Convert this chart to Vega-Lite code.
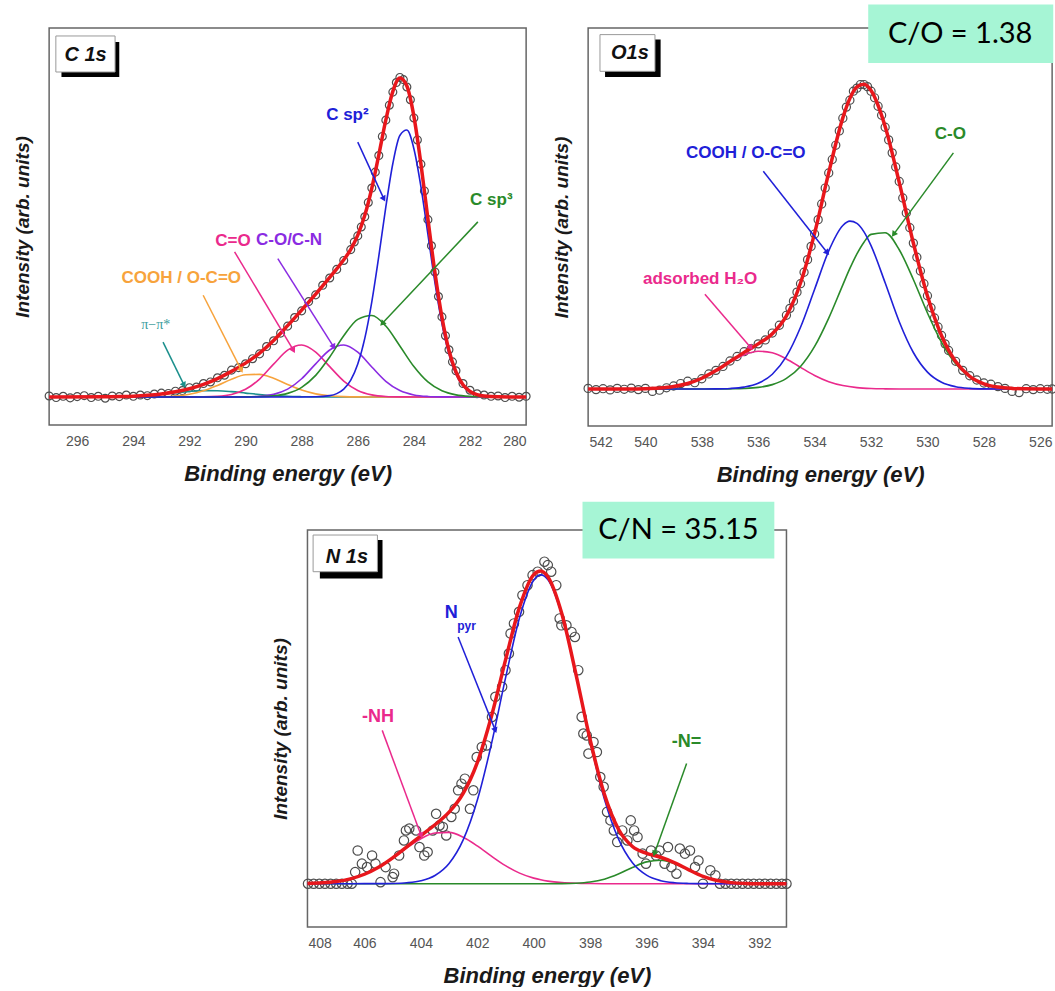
{
"$schema": "https://vega.github.io/schema/vega-lite/v6.json",
"padding": {"left": 12, "top": 3, "right": 0, "bottom": 0},
"background": "white",
"config": {
 "view": {"stroke": "#666", "strokeWidth": 1.5},
 "font": "Liberation Sans",
 "axis": {"grid": false, "domain": false, "ticks": false, "labelFont": "Liberation Sans", "labelFontSize": 14, "labelColor": "#555", "labelOverlap": false, "titleFont": "Liberation Sans", "titleFontWeight": "bold", "titleFontStyle": "italic", "titleColor": "#1a1a1a"},
 "axisX": {"labelPadding": 9, "titlePadding": 15, "titleFontSize": 22},
 "axisY": {"labels": false, "titlePadding": 17, "titleFontSize": 19}
},
"datasets": {
 "c1s": [
  {"e":297,"obs":0.003,"fit":0,"sp2":0,"sp3":0,"co":0,"c_o":0,"cooh":0,"pi":0},
  {"e":296.75,"obs":-0.002},
  {"e":296.5,"obs":0.002},
  {"e":296.25,"obs":-0.003},
  {"e":296,"obs":0.001},
  {"e":295.75,"obs":0.004},
  {"e":295.5,"obs":-0.002},
  {"e":295.25,"obs":0.002},
  {"e":295,"obs":-0.004,"fit":0.0003,"pi":0.0003},
  {"e":294.75,"obs":0.003},
  {"e":294.5,"obs":0.001,"fit":0.001,"pi":0.001},
  {"e":294.25,"obs":0.006},
  {"e":294,"obs":0.002,"fit":0.0023,"pi":0.0023,"cooh":0},
  {"e":293.75,"obs":0.006},
  {"e":293.5,"obs":0.004,"fit":0.005,"pi":0.0048,"cooh":0.0002},
  {"e":293.25,"obs":0.009},
  {"e":293,"obs":0.012,"fit":0.0093,"pi":0.0085,"cooh":0.0008,"c_o":0},
  {"e":292.75,"obs":0.011},
  {"e":292.5,"obs":0.018,"fit":0.016,"pi":0.0131,"cooh":0.0029,"c_o":0},
  {"e":292.25,"obs":0.02},
  {"e":292,"obs":0.029,"fit":0.0256,"pi":0.0173,"cooh":0.0082,"c_o":0.0001},
  {"e":291.75,"obs":0.031},
  {"e":291.5,"obs":0.042,"fit":0.0394,"pi":0.0198,"cooh":0.0192,"c_o":0.0004,"co":0},
  {"e":291.25,"obs":0.047},
  {"e":291,"obs":0.06,"fit":0.0577,"pi":0.0195,"cooh":0.0362,"c_o":0.002,"co":0},
  {"e":290.75,"obs":0.068},
  {"e":290.5,"obs":0.084,"fit":0.0802,"pi":0.0166,"cooh":0.0556,"c_o":0.0079,"co":0.0001,"sp3":0},
  {"e":290.25,"obs":0.092},
  {"e":290,"obs":0.104,"fit":0.1061,"pi":0.0121,"cooh":0.0695,"c_o":0.0239,"co":0.0004,"sp3":0.0002},
  {"e":289.75,"obs":0.12},
  {"e":289.5,"obs":0.135,"fit":0.1375,"pi":0.0077,"cooh":0.0707,"c_o":0.0561,"co":0.0021,"sp3":0.0009},
  {"e":289.25,"obs":0.158},
  {"e":289,"obs":0.176,"fit":0.177,"pi":0.0042,"cooh":0.0585,"c_o":0.1028,"co":0.0081,"sp3":0.0034,"sp2":0},
  {"e":288.75,"obs":0.2},
  {"e":288.5,"obs":0.222,"fit":0.2236,"pi":0.002,"cooh":0.0393,"c_o":0.1467,"co":0.0244,"sp3":0.0112},
  {"e":288.25,"obs":0.249},
  {"e":288,"obs":0.27,"fit":0.2725,"pi":0.0008,"cooh":0.0215,"c_o":0.163,"co":0.057,"sp3":0.0302,"sp2":0},
  {"e":287.75,"obs":0.299},
  {"e":287.5,"obs":0.32,"fit":0.3223,"pi":0,"cooh":0.0096,"c_o":0.1408,"co":0.1038,"sp3":0.0676,"sp2":0.0005},
  {"e":287.25,"obs":0.35},
  {"e":287,"obs":0.373,"fit":0.3748,"cooh":0.0035,"c_o":0.0949,"co":0.1473,"sp3":0.1251,"sp2":0.004},
  {"e":286.75,"obs":0.4,"fit":0.4016,"sp2":0.0104},
  {"e":286.5,"obs":0.428,"fit":0.4299,"cooh":0.001,"c_o":0.0498,"co":0.1628,"sp3":0.1918,"sp2":0.0245},
  {"e":286.25,"obs":0.462,"fit":0.463,"sp2":0.0527},
  {"e":286.125,"obs":0.486},
  {"e":286,"obs":0.505,"fit":0.5073,"cooh":0.0002,"c_o":0.0204,"co":0.1402,"sp3":0.2434,"sp2":0.1031},
  {"e":285.875,"obs":0.533},
  {"e":285.75,"obs":0.565,"fit":0.5694,"sp2":0.1837},
  {"e":285.625,"obs":0.61},
  {"e":285.5,"obs":0.655,"fit":0.6544,"cooh":0,"c_o":0.0065,"co":0.0939,"sp3":0.2556,"sp2":0.2984},
  {"e":285.375,"obs":0.705},
  {"e":285.25,"obs":0.757,"fit":0.7589,"sp2":0.4416},
  {"e":285.125,"obs":0.817},
  {"e":285,"obs":0.868,"fit":0.8686,"c_o":0.0016,"co":0.049,"sp3":0.2223,"sp2":0.5957},
  {"e":284.875,"obs":0.915},
  {"e":284.75,"obs":0.956,"fit":0.9582,"sp2":0.7321},
  {"e":284.625,"obs":0.986},
  {"e":284.5,"obs":1.002,"fit":1.0001,"c_o":0.0003,"co":0.0199,"sp3":0.1599,"sp2":0.82},
  {"e":284.375,"obs":0.995},
  {"e":284.25,"obs":0.972,"fit":0.975,"sp2":0.837},
  {"e":284.125,"obs":0.932},
  {"e":284,"obs":0.875,"fit":0.88,"c_o":0,"co":0.0063,"sp3":0.0953,"sp2":0.7784},
  {"e":283.875,"obs":0.806},
  {"e":283.75,"obs":0.73,"fit":0.7314,"sp2":0.6597},
  {"e":283.625,"obs":0.646},
  {"e":283.5,"obs":0.556,"fit":0.5581,"co":0.0016,"sp3":0.047,"sp2":0.5095},
  {"e":283.375,"obs":0.474},
  {"e":283.25,"obs":0.392,"fit":0.39,"sp2":0.3587},
  {"e":283.125,"obs":0.315},
  {"e":283,"obs":0.251,"fit":0.2496,"co":0.0003,"sp3":0.0192,"sp2":0.2301},
  {"e":282.875,"obs":0.192},
  {"e":282.75,"obs":0.148,"fit":0.1458,"sp2":0.1344},
  {"e":282.625,"obs":0.11},
  {"e":282.5,"obs":0.082,"fit":0.0781,"co":0,"sp3":0.0065,"sp2":0.0716},
  {"e":282.25,"obs":0.042,"fit":0.0382,"sp2":0.0347},
  {"e":282,"obs":0.021,"fit":0.0172,"sp3":0.0018,"sp2":0.0154},
  {"e":281.75,"obs":0.01,"fit":0.0072,"sp2":0.0062},
  {"e":281.5,"obs":0.006,"fit":0.0027,"sp3":0.0004,"sp2":0.0023},
  {"e":281.25,"obs":0.002},
  {"e":281,"obs":0.003,"fit":0.0003,"sp3":0.0001,"sp2":0.0002},
  {"e":280.75,"obs":-0.002},
  {"e":280.5,"obs":0.002},
  {"e":280.25,"obs":-0.001},
  {"e":280,"obs":0.002,"fit":0,"sp2":0,"sp3":0,"co":0,"c_o":0,"cooh":0,"pi":0}
 ],
 "c1s_arr": [
  {"k":"sp2","e":285.07,"v":0.621,"e2":286.0,"v2":0.799},
  {"k":"sp3","e":285.13,"v":0.23,"e2":281.72,"v2":0.549},
  {"k":"co","e":286.86,"v":0.157,"e2":288.85,"v2":0.434},
  {"k":"c_o","e":288.29,"v":0.146,"e2":290.39,"v2":0.455},
  {"k":"cooh","e":290.15,"v":0.084,"e2":291.51,"v2":0.319},
  {"k":"pi","e":292.19,"v":0.037,"e2":292.94,"v2":0.172}
 ],
 "c1s_lab": [
  {"k":"sp2","e":286.37,"v":0.884,"t":"C sp²"},
  {"k":"sp3","e":281.24,"v":0.618,"t":"C sp³"},
  {"k":"co","e":288.45,"v":0.492,"t":"C-O/C-N"},
  {"k":"c_o","e":290.45,"v":0.489,"t":"C=O"},
  {"k":"cooh","e":292.29,"v":0.373,"t":"COOH / O-C=O"}
 ],
 "o1s": [
  {"e":542.03,"obs":0.002,"fit":0,"b":0,"g":0,"m":0},
  {"e":541.75,"obs":-0.002},
  {"e":541.5,"obs":0.001},
  {"e":541.25,"obs":-0.003},
  {"e":541,"obs":0.002,"fit":0.0001,"m":0.0001},
  {"e":540.75,"obs":-0.001},
  {"e":540.5,"obs":0.003,"fit":0.0003,"m":0.0003},
  {"e":540.25,"obs":-0.002},
  {"e":540,"obs":0.002,"fit":0.001,"m":0.001},
  {"e":539.75,"obs":-0.008},
  {"e":539.5,"obs":-0.004,"fit":0.0031,"m":0.0031},
  {"e":539.25,"obs":0.004},
  {"e":539,"obs":0.01,"fit":0.0081,"m":0.0081},
  {"e":538.75,"obs":0.018},
  {"e":538.5,"obs":0.026,"fit":0.0183,"m":0.0183,"b":0,"g":0},
  {"e":538.25,"obs":0.021},
  {"e":538,"obs":0.034,"fit":0.0358,"m":0.0357,"b":0.0001,"g":0},
  {"e":537.75,"obs":0.05},
  {"e":537.5,"obs":0.062,"fit":0.0611,"m":0.0606,"b":0.0004,"g":0.0001},
  {"e":537.25,"obs":0.075},
  {"e":537,"obs":0.093,"fit":0.0915,"m":0.0892,"b":0.0018,"g":0.0005},
  {"e":536.75,"obs":0.108},
  {"e":536.5,"obs":0.124,"fit":0.1217,"m":0.1137,"b":0.0063,"g":0.0017},
  {"e":536.25,"obs":0.134},
  {"e":536,"obs":0.15,"fit":0.1499,"m":0.1256,"b":0.019,"g":0.0053},
  {"e":535.75,"obs":0.163},
  {"e":535.5,"obs":0.186,"fit":0.184,"m":0.1204,"b":0.0491,"g":0.0145},
  {"e":535.25,"obs":0.212},
  {"e":535,"obs":0.245,"fit":0.2434,"m":0.1,"b":0.1083,"g":0.0351},
  {"e":534.875,"obs":0.268},
  {"e":534.75,"obs":0.292},
  {"e":534.625,"obs":0.322},
  {"e":534.5,"obs":0.35,"fit":0.3523,"m":0.072,"b":0.2053,"g":0.075},
  {"e":534.375,"obs":0.388},
  {"e":534.25,"obs":0.43},
  {"e":534.125,"obs":0.474},
  {"e":534,"obs":0.515,"fit":0.518,"m":0.0449,"b":0.3316,"g":0.1415},
  {"e":533.875,"obs":0.563},
  {"e":533.75,"obs":0.615},
  {"e":533.625,"obs":0.668},
  {"e":533.5,"obs":0.718,"fit":0.7191,"m":0.0243,"b":0.4591,"g":0.2357},
  {"e":533.375,"obs":0.763},
  {"e":533.25,"obs":0.81},
  {"e":533.125,"obs":0.858},
  {"e":533,"obs":0.9,"fit":0.9013,"m":0.0114,"b":0.5436,"g":0.3463},
  {"e":532.875,"obs":0.937},
  {"e":532.75,"obs":0.96,"fit":0.966,"b":0.558,"g":0.4007},
  {"e":532.625,"obs":0.99},
  {"e":532.5,"obs":1.0,"fit":1.004,"m":0.0046,"b":0.5503,"g":0.4491},
  {"e":532.375,"obs":1.012},
  {"e":532.25,"obs":1.012,"fit":1.013,"b":0.5223,"g":0.4881},
  {"e":532.125,"obs":1.005},
  {"e":532,"obs":0.99,"fit":0.9922,"m":0.0016,"b":0.4766,"g":0.514},
  {"e":531.875,"obs":0.968},
  {"e":531.75,"obs":0.94},
  {"e":531.625,"obs":0.91},
  {"e":531.5,"obs":0.87,"fit":0.8729,"m":0.0005,"b":0.3531,"g":0.5193},
  {"e":531.375,"obs":0.828},
  {"e":531.25,"obs":0.785},
  {"e":531.125,"obs":0.738},
  {"e":531,"obs":0.69,"fit":0.6866,"m":0.0001,"b":0.2237,"g":0.4628},
  {"e":530.875,"obs":0.635},
  {"e":530.75,"obs":0.585},
  {"e":530.625,"obs":0.536},
  {"e":530.5,"obs":0.485,"fit":0.4854,"m":0,"b":0.1213,"g":0.3641},
  {"e":530.375,"obs":0.438},
  {"e":530.25,"obs":0.392},
  {"e":530.125,"obs":0.35},
  {"e":530,"obs":0.31,"fit":0.3089,"b":0.0562,"g":0.2527},
  {"e":529.875,"obs":0.27},
  {"e":529.75,"obs":0.236},
  {"e":529.625,"obs":0.206},
  {"e":529.5,"obs":0.178,"fit":0.1772,"b":0.0223,"g":0.1549},
  {"e":529.375,"obs":0.15},
  {"e":529.25,"obs":0.128},
  {"e":529,"obs":0.092,"fit":0.0913,"b":0.0076,"g":0.0837},
  {"e":528.75,"obs":0.062},
  {"e":528.5,"obs":0.044,"fit":0.0422,"b":0.0022,"g":0.04},
  {"e":528.25,"obs":0.03},
  {"e":528,"obs":0.02,"fit":0.0173,"b":0.0005,"g":0.0168},
  {"e":527.75,"obs":0.016},
  {"e":527.5,"obs":0.008,"fit":0.0063,"b":0.0001,"g":0.0062},
  {"e":527.25,"obs":0.002},
  {"e":527,"obs":-0.008,"fit":0.002,"b":0,"g":0.002},
  {"e":526.75,"obs":-0.012},
  {"e":526.5,"obs":0.001,"fit":0.0006,"g":0.0006},
  {"e":526.25,"obs":-0.002},
  {"e":526,"obs":0.001,"fit":0.0001,"g":0.0001},
  {"e":525.75,"obs":-0.001},
  {"e":525.58,"obs":0,"fit":0,"b":0,"g":0,"m":0}
 ],
 "o1s_arr": [
  {"k":"b","e":533.55,"v":0.453,"e2":535.82,"v2":0.724},
  {"k":"g","e":531.2,"v":0.514,"e2":529.08,"v2":0.785},
  {"k":"m","e":536.26,"v":0.137,"e2":537.89,"v2":0.315}
 ],
 "o1s_lab": [
  {"k":"b","e":536.44,"v":0.785,"t":"COOH / O-C=O"},
  {"k":"g","e":529.19,"v":0.846,"t":"C-O"},
  {"k":"m","e":538.06,"v":0.364,"t":"adsorbed H₂O"}
 ],
 "n1s": [
  {"e":408.02,"fit":0.0011,"b":0,"m":0.0011,"g":0},
  {"e":407.5,"fit":0.003,"b":0,"m":0.003,"g":0},
  {"e":407,"fit":0.0071,"b":0,"m":0.0071,"g":0},
  {"e":406.5,"fit":0.0156,"b":0.0001,"m":0.0155,"g":0},
  {"e":406,"fit":0.0302,"b":0.0002,"m":0.03,"g":0},
  {"e":405.5,"fit":0.0524,"b":0.0002,"m":0.0522,"g":0},
  {"e":405,"fit":0.0824,"b":0.0008,"m":0.0816,"g":0},
  {"e":404.5,"fit":0.1173,"b":0.003,"m":0.1143,"g":0},
  {"e":404,"fit":0.153,"b":0.0094,"m":0.1436,"g":0},
  {"e":403.5,"fit":0.188,"b":0.0262,"m":0.1618,"g":0},
  {"e":403,"fit":0.2281,"b":0.0645,"m":0.1636,"g":0},
  {"e":402.5,"fit":0.288,"b":0.1397,"m":0.1483,"g":0},
  {"e":402,"fit":0.3865,"b":0.2659,"m":0.1206,"g":0},
  {"e":401.5,"fit":0.5332,"b":0.4452,"m":0.088,"g":0},
  {"e":401,"fit":0.7132,"b":0.6556,"m":0.0576,"g":0},
  {"e":400.5,"fit":0.8828,"b":0.849,"m":0.0338,"g":0},
  {"e":400,"fit":0.9858,"b":0.968,"m":0.0178,"g":0},
  {"e":399.75,"fit":0.9975,"b":0.985,"m":0.0124,"g":0.0001},
  {"e":399.5,"fit":0.979,"b":0.9705,"m":0.0084,"g":0.0001},
  {"e":399,"fit":0.86,"b":0.856,"m":0.0036,"g":0.0004},
  {"e":398.5,"fit":0.667,"b":0.664,"m":0.0014,"g":0.0016},
  {"e":398,"fit":0.4591,"b":0.4531,"m":0.0005,"g":0.0055},
  {"e":397.5,"fit":0.2865,"b":0.2719,"m":0.0001,"g":0.0145},
  {"e":397,"fit":0.1745,"b":0.1437,"m":0,"g":0.0308},
  {"e":396.5,"fit":0.1187,"b":0.0668,"m":0,"g":0.0519},
  {"e":396,"fit":0.097,"b":0.0273,"m":0,"g":0.0697},
  {"e":395.5,"fit":0.0845,"b":0.0098,"m":0,"g":0.0747},
  {"e":395,"fit":0.0668,"b":0.0031,"m":0,"g":0.0637},
  {"e":394.5,"fit":0.0442,"b":0.0009,"m":0,"g":0.0433},
  {"e":394,"fit":0.0236,"b":0.0002,"m":0,"g":0.0234},
  {"e":393.5,"fit":0.0101,"b":0,"m":0,"g":0.0101},
  {"e":393,"fit":0.0035,"b":0,"m":0,"g":0.0035},
  {"e":392.5,"fit":0.001,"b":0,"m":0,"g":0.001},
  {"e":392,"fit":0.0002,"b":0,"m":0,"g":0.0002},
  {"e":391.04,"fit":0,"b":0,"m":0,"g":0}
 ],
 "n1s_obs": [
  {"e":408.0,"v":0},{"e":407.8,"v":0},{"e":407.6,"v":0},{"e":407.4,"v":0},{"e":407.2,"v":0},{"e":407.0,"v":0},{"e":406.8,"v":0},{"e":406.6,"v":0},{"e":406.45,"v":0},
  {"e":406.33,"v":0.037},{"e":406.24,"v":0.106},{"e":406.09,"v":0.064},{"e":405.91,"v":0.053},{"e":405.73,"v":0.09},{"e":405.61,"v":0.064},{"e":405.43,"v":0.005},{"e":405.25,"v":0.053},{"e":405.0,"v":0.021},{"e":404.95,"v":0.032},{"e":404.77,"v":0.09},{"e":404.6,"v":0.138},{"e":404.53,"v":0.17},{"e":404.41,"v":0.176},{"e":404.17,"v":0.17},{"e":404.05,"v":0.117},{"e":403.88,"v":0.09},{"e":403.76,"v":0.101},{"e":403.58,"v":0.17},{"e":403.46,"v":0.223},{"e":403.34,"v":0.186},{"e":403.22,"v":0.181},{"e":403.1,"v":0.154},{"e":402.92,"v":0.213},{"e":402.8,"v":0.239},{"e":402.68,"v":0.298},{"e":402.56,"v":0.319},{"e":402.44,"v":0.335},{"e":402.26,"v":0.239},{"e":402.14,"v":0.298},{"e":402.02,"v":0.404},{"e":401.84,"v":0.436},{"e":401.66,"v":0.441},{"e":401.48,"v":0.532},{"e":401.36,"v":0.596},{"e":401.12,"v":0.628},{"e":401.0,"v":0.681},{"e":400.88,"v":0.734},{"e":400.82,"v":0.798},{"e":400.7,"v":0.83},{"e":400.52,"v":0.867},{"e":400.4,"v":0.92},{"e":400.22,"v":0.952},{"e":400.04,"v":0.984},{"e":399.86,"v":0.995},{"e":399.62,"v":1.027},{"e":399.5,"v":1.016},{"e":399.38,"v":0.995},{"e":399.2,"v":0.952},{"e":399.08,"v":0.846},{"e":399.02,"v":0.824},{"e":398.84,"v":0.824},{"e":398.66,"v":0.803},{"e":398.54,"v":0.787},{"e":398.42,"v":0.681},{"e":398.3,"v":0.532},{"e":398.24,"v":0.479},{"e":398.12,"v":0.473},{"e":398.06,"v":0.415},{"e":397.88,"v":0.452},{"e":397.76,"v":0.42},{"e":397.64,"v":0.34},{"e":397.52,"v":0.309},{"e":397.4,"v":0.229},{"e":397.28,"v":0.202},{"e":397.16,"v":0.17},{"e":397.04,"v":0.133},{"e":396.86,"v":0.17},{"e":396.68,"v":0.138},{"e":396.56,"v":0.202},{"e":396.44,"v":0.17},{"e":396.32,"v":0.149},{"e":396.14,"v":0.096},{"e":396.02,"v":0.064},{"e":395.84,"v":0.106},{"e":395.66,"v":0.09},{"e":395.54,"v":0.106},{"e":395.36,"v":0.064},{"e":395.24,"v":0.117},{"e":395.12,"v":0.053},{"e":394.94,"v":0.032},{"e":394.82,"v":0.112},{"e":394.64,"v":0.096},{"e":394.46,"v":0.106},{"e":394.28,"v":0.053},{"e":394.16,"v":0.074},{"e":394.0,"v":0.0},{"e":393.74,"v":0.043},{"e":393.56,"v":0.027},
  {"e":393.4,"v":0},{"e":393.2,"v":0},{"e":393.0,"v":0},{"e":392.8,"v":0},{"e":392.6,"v":0},{"e":392.4,"v":0},{"e":392.2,"v":0},{"e":392.0,"v":0},{"e":391.8,"v":0},{"e":391.6,"v":0},{"e":391.4,"v":0},{"e":391.2,"v":0},{"e":391.04,"v":0}
 ],
 "n1s_arr": [
  {"k":"b","e":401.36,"v":0.489,"e2":402.68,"v2":0.787},
  {"k":"m","e":403.99,"v":0.154,"e2":405.37,"v2":0.489},
  {"k":"g","e":395.72,"v":0.096,"e2":394.58,"v2":0.383}
 ],
 "n1s_lab": [
  {"k":"b","e":402.92,"v":0.862,"t":"N"},
  {"k":"m","e":405.52,"v":0.532,"t":"-NH"},
  {"k":"g","e":394.58,"v":0.452,"t":"-N="}
 ]
},
"vconcat": [
 {"hconcat": [
  {
   "width": 477, "height": 397,
   "data": {"name": "c1s"},
   "encoding": {
    "x": {"field": "e", "type": "quantitative", "scale": {"domain": [297, 280], "nice": false, "zero": false}, "axis": {"title": "Binding energy (eV)", "values": [296,294,292,290,288,286,284,282,280], "format": "d"}},
    "y": {"field": "v", "type": "quantitative", "scale": {"domain": [-0.088, 1.157], "nice": false, "zero": false}, "axis": {"title": "Intensity (arb. units)"}}
   },
   "layer": [
    {"transform": [{"fold": ["obs"], "as": ["k", "v"]}], "mark": {"type": "point", "size": 62, "color": "#4d4d4d", "strokeWidth": 1.2, "opacity": 1}},
    {"transform": [{"fold": ["pi", "cooh", "c_o", "co", "sp3", "sp2"], "as": ["k", "v"]}, {"filter": "isValid(datum.v)"}], "mark": {"type": "line", "strokeWidth": 1.6, "interpolate": "monotone"}, "encoding": {"color": {"field": "k", "type": "nominal", "scale": {"domain": ["sp2","sp3","co","c_o","cooh","pi"], "range": ["#2020d8","#2a8a2a","#8a2be2","#ea2a8c","#f7a33c","#1b8f8c"]}, "legend": null}}},
    {"transform": [{"fold": ["fit"], "as": ["k", "v"]}, {"filter": "isValid(datum.v)"}], "mark": {"type": "line", "color": "#e8171c", "strokeWidth": 3.5, "interpolate": "monotone"}},
    {"data": {"values": [{"e":296},{"e":294},{"e":292},{"e":290},{"e":288},{"e":286},{"e":284},{"e":282}]}, "mark": {"type": "rule", "color": "#555", "strokeWidth": 1.5}, "encoding": {"y": {"datum": -0.088, "type": "quantitative"}, "y2": {"datum": -0.063}}},
    {"data": {"values": [{"e":295},{"e":293},{"e":291},{"e":289},{"e":287},{"e":285},{"e":283},{"e":281}]}, "mark": {"type": "rule", "color": "#555", "strokeWidth": 1.5}, "encoding": {"y": {"datum": -0.088, "type": "quantitative"}, "y2": {"datum": -0.0755}}},
    {"data": {"name": "c1s_arr"}, "mark": {"type": "rule", "strokeWidth": 1.5}, "encoding": {"x2": {"field": "e2"}, "y2": {"field": "v2"}, "color": {"field": "k", "type": "nominal", "legend": null}}},
    {"data": {"name": "c1s_arr"}, "transform": [{"filter": "datum.k !== 'sp3'"}], "mark": {"type": "point", "shape": "triangle-up", "filled": true, "size": 45, "angle": 152, "opacity": 1}, "encoding": {"color": {"field": "k", "type": "nominal", "legend": null}}},
    {"data": {"name": "c1s_arr"}, "transform": [{"filter": "datum.k === 'sp3'"}], "mark": {"type": "point", "shape": "triangle-up", "filled": true, "size": 45, "angle": -137, "opacity": 1}, "encoding": {"color": {"field": "k", "type": "nominal", "legend": null}}},
    {"data": {"name": "c1s_lab"}, "mark": {"type": "text", "fontSize": 17, "fontWeight": "bold", "align": "center", "baseline": "middle"}, "encoding": {"text": {"field": "t"}, "color": {"field": "k", "type": "nominal", "legend": null}}},
    {"data": {"values": [{"e":293.2,"v":0.227,"t":"π−π*"}]}, "mark": {"type": "text", "font": "Liberation Serif", "fontSize": 14, "color": "#3a9c9c", "align": "center", "baseline": "middle"}, "encoding": {"text": {"field": "t"}}},
    {"data": {"values": [{"e":296.56,"v":1.003,"e2":294.5,"v2":1.113}]}, "mark": {"type": "rect", "color": "#000"}, "encoding": {"x2": {"field": "e2"}, "y2": {"field": "v2"}}},
    {"data": {"values": [{"e":296.76,"v":1.019,"e2":294.65,"v2":1.132}]}, "mark": {"type": "rect", "fill": "#fff", "stroke": "#999", "strokeWidth": 1}, "encoding": {"x2": {"field": "e2"}, "y2": {"field": "v2"}}},
    {"data": {"values": [{"e":295.7,"v":1.071,"t":"C 1s"}]}, "mark": {"type": "text", "fontSize": 20, "fontWeight": "bold", "fontStyle": "italic", "color": "#111", "align": "center", "baseline": "middle"}, "encoding": {"text": {"field": "t"}}},
    {"data": {"values": [{"e":297,"v":1.18,"v2":1.229}]}, "mark": {"type": "rule", "color": "#fff", "strokeWidth": 1}, "encoding": {"y2": {"field": "v2"}}}
   ]
  },
  {
   "width": 464, "height": 398,
   "data": {"name": "o1s"},
   "encoding": {
    "x": {"field": "e", "type": "quantitative", "scale": {"domain": [542.03, 525.58], "nice": false, "zero": false}, "axis": {"title": "Binding energy (eV)", "values": [542,540,538,536,534,532,530,528,526], "format": "d"}},
    "y": {"field": "v", "type": "quantitative", "scale": {"domain": [-0.123, 1.2], "nice": false, "zero": false}, "axis": {"title": "Intensity (arb. units)"}}
   },
   "layer": [
    {"transform": [{"fold": ["obs"], "as": ["k", "v"]}], "mark": {"type": "point", "size": 66, "color": "#4d4d4d", "strokeWidth": 1.2, "opacity": 1}},
    {"transform": [{"fold": ["m", "g", "b"], "as": ["k", "v"]}, {"filter": "isValid(datum.v)"}], "mark": {"type": "line", "strokeWidth": 1.6, "interpolate": "monotone"}, "encoding": {"color": {"field": "k", "type": "nominal", "scale": {"domain": ["b","g","m"], "range": ["#2020d8","#2a8a2a","#ea2a8c"]}, "legend": null}}},
    {"transform": [{"fold": ["fit"], "as": ["k", "v"]}, {"filter": "isValid(datum.v)"}], "mark": {"type": "line", "color": "#e8171c", "strokeWidth": 3.5, "interpolate": "monotone"}},
    {"data": {"values": [{"e":540},{"e":538},{"e":536},{"e":534},{"e":532},{"e":530},{"e":528},{"e":526}]}, "mark": {"type": "rule", "color": "#555", "strokeWidth": 1.5}, "encoding": {"y": {"datum": -0.123, "type": "quantitative"}, "y2": {"datum": -0.0964}}},
    {"data": {"values": [{"e":541},{"e":539},{"e":537},{"e":535},{"e":533},{"e":531},{"e":529},{"e":527}]}, "mark": {"type": "rule", "color": "#555", "strokeWidth": 1.5}, "encoding": {"y": {"datum": -0.123, "type": "quantitative"}, "y2": {"datum": -0.1097}}},
    {"data": {"name": "o1s_arr"}, "mark": {"type": "rule", "strokeWidth": 1.5}, "encoding": {"x2": {"field": "e2"}, "y2": {"field": "v2"}, "color": {"field": "k", "type": "nominal", "legend": null}}},
    {"data": {"name": "o1s_arr"}, "transform": [{"filter": "datum.k !== 'g'"}], "mark": {"type": "point", "shape": "triangle-up", "filled": true, "size": 45, "angle": 140, "opacity": 1}, "encoding": {"color": {"field": "k", "type": "nominal", "legend": null}}},
    {"data": {"name": "o1s_arr"}, "transform": [{"filter": "datum.k === 'g'"}], "mark": {"type": "point", "shape": "triangle-up", "filled": true, "size": 45, "angle": -144, "opacity": 1}, "encoding": {"color": {"field": "k", "type": "nominal", "legend": null}}},
    {"data": {"name": "o1s_lab"}, "mark": {"type": "text", "fontSize": 17, "fontWeight": "bold", "align": "center", "baseline": "middle"}, "encoding": {"text": {"field": "t"}, "color": {"field": "k", "type": "nominal", "legend": null}}},
    {"data": {"values": [{"e":541.43,"v":1.037,"e2":539.46,"v2":1.162}]}, "mark": {"type": "rect", "color": "#000"}, "encoding": {"x2": {"field": "e2"}, "y2": {"field": "v2"}}},
    {"data": {"values": [{"e":541.61,"v":1.056,"e2":539.66,"v2":1.178}]}, "mark": {"type": "rect", "fill": "#fff", "stroke": "#999", "strokeWidth": 1}, "encoding": {"x2": {"field": "e2"}, "y2": {"field": "v2"}}},
    {"data": {"values": [{"e":540.55,"v":1.117,"t":"O1s"}]}, "mark": {"type": "text", "fontSize": 20, "fontWeight": "bold", "fontStyle": "italic", "color": "#111", "align": "center", "baseline": "middle"}, "encoding": {"text": {"field": "t"}}},
    {"data": {"values": [{"e":532.1,"v":1.084,"e2":525.54,"v2":1.278}]}, "mark": {"type": "rect", "color": "#a6f5d5", "opacity": 1}, "encoding": {"x2": {"field": "e2"}, "y2": {"field": "v2"}}},
    {"data": {"values": [{"e":528.84,"v":1.179,"t":"C/O = 1.38"}]}, "mark": {"type": "text", "font": "Lato", "fontSize": 29, "color": "#000", "align": "center", "baseline": "middle"}, "encoding": {"text": {"field": "t"}}}
   ]
  }
 ], "spacing": 17, "resolve": {"scale": {"color": "independent"}}},
 {
  "width": 479, "height": 397,
  "data": {"name": "n1s"},
  "encoding": {
   "x": {"field": "e", "type": "quantitative", "scale": {"domain": [408.02, 391.04], "nice": false, "zero": false}, "axis": {"title": "Binding energy (eV)", "values": [408,406,404,402,400,398,396,394,392], "format": "d"}},
   "y": {"field": "v", "type": "quantitative", "scale": {"domain": [-0.138, 1.128], "nice": false, "zero": false}, "axis": {"title": "Intensity (arb. units)"}}
  },
  "layer": [
   {"data": {"name": "n1s_obs"}, "mark": {"type": "point", "size": 88, "color": "#4d4d4d", "strokeWidth": 1.2, "opacity": 1}},
   {"transform": [{"fold": ["m", "g", "b"], "as": ["k", "v"]}, {"filter": "isValid(datum.v)"}], "mark": {"type": "line", "strokeWidth": 1.6, "interpolate": "monotone"}, "encoding": {"color": {"field": "k", "type": "nominal", "scale": {"domain": ["b","g","m"], "range": ["#2020d8","#2a8a2a","#ea2a8c"]}, "legend": null}}},
   {"transform": [{"fold": ["fit"], "as": ["k", "v"]}, {"filter": "isValid(datum.v)"}], "mark": {"type": "line", "color": "#e8171c", "strokeWidth": 3.5, "interpolate": "monotone"}},
   {"data": {"values": [{"e":406},{"e":404},{"e":402},{"e":400},{"e":398},{"e":396},{"e":394},{"e":392}]}, "mark": {"type": "rule", "color": "#555", "strokeWidth": 1.5}, "encoding": {"y": {"datum": -0.138, "type": "quantitative"}, "y2": {"datum": -0.1125}}},
   {"data": {"values": [{"e":407},{"e":405},{"e":403},{"e":401},{"e":399},{"e":397},{"e":395},{"e":393}]}, "mark": {"type": "rule", "color": "#555", "strokeWidth": 1.5}, "encoding": {"y": {"datum": -0.138, "type": "quantitative"}, "y2": {"datum": -0.1252}}},
   {"data": {"name": "n1s_arr"}, "mark": {"type": "rule", "strokeWidth": 1.5}, "encoding": {"x2": {"field": "e2"}, "y2": {"field": "v2"}, "color": {"field": "k", "type": "nominal", "legend": null}}},
   {"data": {"name": "n1s_arr"}, "transform": [{"filter": "datum.k !== 'g'"}], "mark": {"type": "point", "shape": "triangle-up", "filled": true, "size": 45, "angle": 159, "opacity": 1}, "encoding": {"color": {"field": "k", "type": "nominal", "legend": null}}},
   {"data": {"name": "n1s_arr"}, "transform": [{"filter": "datum.k === 'g'"}], "mark": {"type": "point", "shape": "triangle-up", "filled": true, "size": 45, "angle": -160, "opacity": 1}, "encoding": {"color": {"field": "k", "type": "nominal", "legend": null}}},
   {"data": {"name": "n1s_lab"}, "mark": {"type": "text", "fontSize": 18, "fontWeight": "bold", "align": "center", "baseline": "middle"}, "encoding": {"text": {"field": "t"}, "color": {"field": "k", "type": "nominal", "legend": null}}},
   {"data": {"values": [{"e":402.38,"v":0.822,"t":"pyr"}]}, "mark": {"type": "text", "fontSize": 12, "fontWeight": "bold", "color": "#2020d8", "align": "center", "baseline": "middle"}, "encoding": {"text": {"field": "t"}}},
   {"data": {"values": [{"e":407.58,"v":0.973,"e2":405.36,"v2":1.096}]}, "mark": {"type": "rect", "color": "#000"}, "encoding": {"x2": {"field": "e2"}, "y2": {"field": "v2"}}},
   {"data": {"values": [{"e":407.82,"v":0.995,"e2":405.54,"v2":1.112}]}, "mark": {"type": "rect", "fill": "#fff", "stroke": "#999", "strokeWidth": 1}, "encoding": {"x2": {"field": "e2"}, "y2": {"field": "v2"}}},
   {"data": {"values": [{"e":406.62,"v":1.042,"t":"N 1s"}]}, "mark": {"type": "text", "fontSize": 20, "fontWeight": "bold", "fontStyle": "italic", "color": "#111", "align": "center", "baseline": "middle"}, "encoding": {"text": {"field": "t"}}},
   {"data": {"values": [{"e":398.27,"v":1.037,"e2":391.47,"v2":1.218}]}, "mark": {"type": "rect", "color": "#a6f5d5", "opacity": 1}, "encoding": {"x2": {"field": "e2"}, "y2": {"field": "v2"}}},
   {"data": {"values": [{"e":394.87,"v":1.129,"t":"C/N = 35.15"}]}, "mark": {"type": "text", "font": "Lato", "fontSize": 29, "color": "#000", "align": "center", "baseline": "middle"}, "encoding": {"text": {"field": "t"}}},
   {"data": {"values": [{"e":390.55,"v":0.2,"v2":0.3}]}, "mark": {"type": "rule", "color": "#fff", "strokeWidth": 1}, "encoding": {"y2": {"field": "v2"}}}
  ]
 }
],
"spacing": 15,
"center": true,
"resolve": {"scale": {"color": "independent"}}
}
